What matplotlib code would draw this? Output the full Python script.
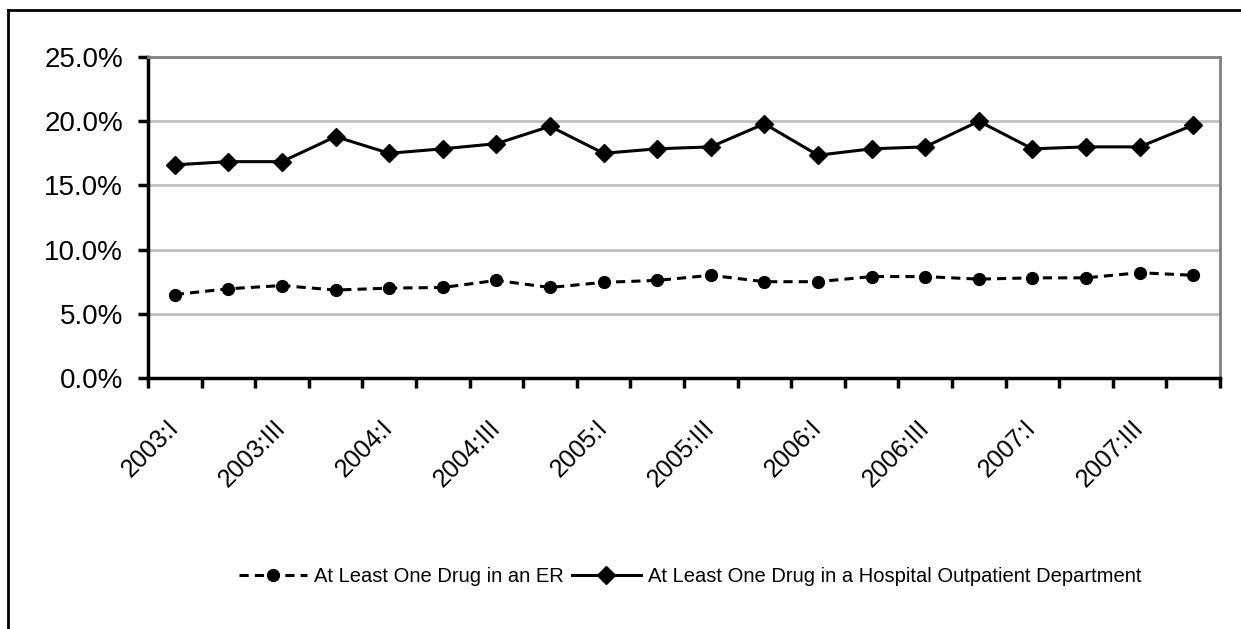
import numpy as np
import matplotlib
matplotlib.use('Agg')
import matplotlib.pyplot as plt
from matplotlib.lines import Line2D

plt.rcParams['font.family'] = ['Liberation Sans', 'DejaVu Sans']

quarters = ['2003:I', '2003:II', '2003:III', '2003:IV',
            '2004:I', '2004:II', '2004:III', '2004:IV',
            '2005:I', '2005:II', '2005:III', '2005:IV',
            '2006:I', '2006:II', '2006:III', '2006:IV',
            '2007:I', '2007:II', '2007:III', '2007:IV']
er_pct = [6.5, 6.95, 7.2, 6.85, 7.0, 7.05, 7.6, 7.05, 7.45, 7.6,
          8.0, 7.5, 7.5, 7.9, 7.9, 7.7, 7.8, 7.8, 8.2, 8.0]
opd_pct = [16.6, 16.85, 16.85, 18.8, 17.5, 17.85, 18.25, 19.6, 17.5, 17.85,
           18.0, 19.8, 17.35, 17.85, 18.0, 20.0, 17.85, 18.0, 18.0, 19.7]

fig = plt.figure(figsize=(12.41, 6.29), dpi=100)
ax = fig.add_axes([148 / 1241, 1 - 378 / 629, (1220 - 148) / 1241, (378 - 57) / 629])

x = np.arange(len(quarters))
ax.plot(x, er_pct, color='black', lw=2.2, ls=(0, (3, 2)), marker='o', ms=8.5,
        label='At Least One Drug in an ER')
ax.plot(x, opd_pct, color='black', lw=2.2, ls='-', marker='D', ms=9,
        label='At Least One Drug in a Hospital Outpatient Department')

ax.set_xlim(-0.5, len(quarters) - 0.5)
ax.set_ylim(0, 25)
ax.set_yticks(np.arange(0, 26, 5))
ax.set_yticklabels([f'{v:.1f}%' for v in np.arange(0, 26, 5)], fontsize=20)
ax.yaxis.grid(True, color='#c0c0c0', lw=2)
ax.set_axisbelow(True)

# category boundaries get the tick marks, every other quarter gets a label
ax.set_xticks(np.arange(-0.5, len(quarters), 1))
ax.set_xticklabels([])
ax.set_xticks(x[::2], minor=True)
ax.set_xticklabels(quarters[::2], minor=True, rotation=45, ha='right',
                   va='center', rotation_mode='anchor', fontsize=18)
ax.tick_params(axis='x', which='minor', length=0, pad=33)
ax.tick_params(axis='x', which='major', length=7, width=2.5, direction='out')
ax.tick_params(axis='y', length=7, width=2.5, direction='out', pad=11)

for side in ['left', 'bottom']:
    ax.spines[side].set_linewidth(2.5)
ax.spines['top'].set_color('#808080')
ax.spines['top'].set_linewidth(2)
ax.spines['right'].set_color('#808080')
ax.spines['right'].set_linewidth(2)

fig.legend(loc='center', bbox_to_anchor=(690 / 1241, 1 - 577 / 629), ncol=2,
           frameon=False, fontsize=14.5, handlelength=3.4, columnspacing=0.4,
           handletextpad=0.35)

# outer chart frame
fig.add_artist(Line2D([8 / 1241, 8 / 1241], [0, 1 - 10 / 629], color='black', lw=2))
fig.add_artist(Line2D([8 / 1241, 1], [1 - 10 / 629, 1 - 10 / 629], color='black', lw=2))

fig.savefig('out.png', dpi=100)
